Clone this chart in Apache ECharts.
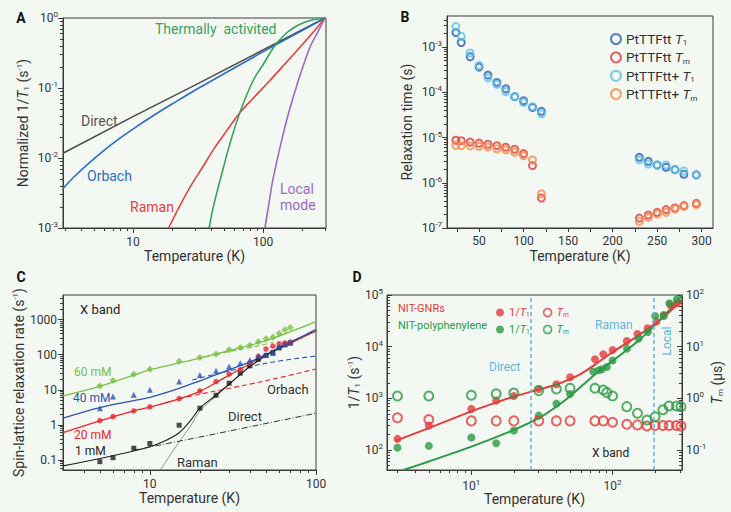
<!DOCTYPE html>
<html><head><meta charset="utf-8">
<script src="https://cdn.jsdelivr.net/npm/echarts@6/dist/echarts.min.js"></script>
<style>html,body{margin:0;padding:0;background:#f4f8f3;}#c{width:731px;height:512px;}</style>
</head><body><div id="c"></div>
<script>
// ---------- Panel A: normalized 1/T1 model curves, [T(K), value] ----------
const aDirect  = [[2.9,0.0117],[10,0.039],[30,0.11],[100,0.35],[300,1]];
const aOrbach  = [[2.9,0.00365],[3.5,0.0053],[4.5,0.0082],[6,0.0129],[8,0.0194],[10,0.0259],[15,0.0425],[20,0.059],[30,0.093],[40,0.126],[60,0.193],[100,0.328],[150,0.496],[300,1]];
const aRaman   = [[18.8,0.001],[21.7,0.0017],[27.4,0.0038],[34,0.0072],[42.8,0.0143],[53,0.025],[66.3,0.0442],[85,0.073],[113,0.128],[150,0.229],[193,0.385],[240,0.61],[300,1]];
const aThermal = [[38.5,0.001],[41.5,0.002],[46.7,0.00475],[54.7,0.0143],[66.3,0.0442],[84,0.128],[100,0.215],[123.6,0.405],[150,0.6],[171,0.72],[200,0.84],[230,0.92],[265,0.97],[300,1]];
const aLocal   = [[103.5,0.001],[110,0.002],[118.8,0.00475],[135.3,0.0143],[156.7,0.0428],[187,0.128],[230,0.385],[265,0.64],[300,1]];

// ---------- Panel B: relaxation times (s) ----------
const bTemps      = [24,30,40,50,60,70,80,90,100,110,120,230,240,250,260,270,280,294];
const bT1         = [2.09e-3,1.26e-3,6.1e-4,3.6e-4,2.4e-4,1.65e-4,1.19e-4,8.0e-5,6.5e-5,4.6e-5,3.8e-5,3.65e-6,2.98e-6,2.47e-6,2.2e-6,1.95e-6,1.54e-6,1.49e-6];
const bTm         = [8.7e-6,8.5e-6,7.9e-6,7.5e-6,7.1e-6,6.6e-6,6.1e-6,5.5e-6,4.4e-6,2.4e-6,4.6e-7,1.66e-7,1.94e-7,2.22e-7,2.55e-7,2.77e-7,3.13e-7,3.5e-7];
const bT1plus     = [2.85e-3,1.72e-3,7.4e-4,3.9e-4,2.08e-4,1.5e-4,1.04e-4,8.0e-5,5.95e-5,4.8e-5,3.35e-5,3.19e-6,2.6e-6,2.47e-6,2.47e-6,1.95e-6,1.82e-6,1.49e-6];
const bTmplus     = [6.7e-6,6.6e-6,6.5e-6,6.4e-6,6.15e-6,5.65e-6,5.35e-6,4.75e-6,3.95e-6,3.2e-6,5.7e-7,1.4e-7,1.72e-7,2.04e-7,2.22e-7,2.63e-7,3.0e-7,3.3e-7];
const bXLabels    = [50,100,150,200,250,300];
const bXTicks     = [25,50,75,100,125,150,175,200,225,250,275,300];

// ---------- Panel C: spin-lattice relaxation rate (s^-1) ----------
const cTemps = [5,6,8,10,15,20,25,30,35,40,45,50,55,60,65,70];
const c1mM   = [0.09,0.117,0.217,0.295,0.98,2.99,7.0,15.4,29.7,48,74,95,115,156,190,212];
const c20mM  = [1.33,1.72,2.5,3.26,5.6,9.3,17.2,28,37,58,90,145,175,205,215,225];
const c40mM  = [3.0,6.45,7.2,10,17.3,26.2,34.7,45.8,57,70,92,100,112,175,200,235];
const c60mM  = [12.9,18.3,27.8,38.6,65,83,105,137,160,185,232,282,315,399,509,591];
const cFit1   = [[3,0.068],[5,0.11],[8,0.18],[10,0.24],[12,0.33],[15,0.6],[17.5,1.3],[20,3.0],[25,7],[30,14.5],[40,46],[60,160],[100,470]];
const cFit20  = [[3,0.6],[5,1.3],[8,2.5],[10,3.2],[15,5.5],[20,9],[25,16],[30,26],[40,55],[50,100],[70,210],[100,480]];
const cFit40  = [[3,1.55],[5,3.1],[8,4.9],[10,6.1],[15,11],[20,18],[25,27],[30,37],[40,62],[50,100],[70,220],[100,530]];
const cFit60  = [[3,6.7],[5,12.5],[8,26],[10,37],[15,58],[20,80],[30,130],[40,185],[50,250],[70,450],[100,877]];
const cOrb20  = [[15,5.6],[20,7.5],[30,11],[40,14.5],[60,22],[100,39]];
const cOrb40  = [[18,19],[25,28],[38,44],[60,66],[100,92]];
const cOrb60  = [[20,80],[30,123],[45,178],[55,225]];
const cDirect = [[8,0.19],[10,0.235],[20,0.45],[50,1.1],[100,2.15]];
const cRaman  = [[11.5,0.05],[13,0.12],[15,0.33],[17.5,0.9],[20,2.5],[25,6.5],[30,14],[40,45],[60,150],[100,470]];

// ---------- Panel D: NIT-GNRs vs NIT-polyphenylene ----------
const dGnrT1Temps  = [3,5,10,15,20,30,40,50,75,86,100,126,150,177,204,230,256,286];
const dGnrT1       = [164,297,624,903,1112,1520,1870,2560,5700,7130,8630,12900,17600,22700,30500,41000,64000,69000];
const dPolyT1Temps = [3,5,10,15,20,30,40,50,73,80,84,91,100,126.5,153,178,200,230,252,285];
const dPolyT1      = [111,120,174,135,238,463,791,1216,3300,3500,3650,4050,5400,9150,14300,19200,39300,39300,69000,82600];
const dGnrTmTemps  = [3,5,10,15,20,30,40,50,75,86,100,126,150,175,200,227,251,283,305];
const dGnrTm       = [0.42,0.39,0.366,0.366,0.366,0.366,0.366,0.366,0.366,0.366,0.344,0.315,0.306,0.292,0.298,0.298,0.298,0.298,0.29];
const dPolyTmTemps = [3,5,10,15,20,30,40,50,75,86,91,100,126,150,175,200,227,251,283,305];
const dPolyTm      = [1.11,1.11,1.15,1.23,1.27,1.41,1.52,1.57,1.57,1.45,1.29,1.11,0.69,0.515,0.38,0.44,0.60,0.71,0.71,0.69];
const dGnrFit  = [[2.9,150],[5,265],[10,560],[15,830],[20,1080],[30,1480],[40,1850],[50,2350],[60,3000],[75,4500],[100,7800],[150,16000],[200,28000],[250,46000],[310,80000]];
const dPolyFit = [[3.3,41],[5,60],[10,116],[20,245],[30,412],[40,690],[50,1100],[75,2900],[100,5300],[150,12600],[200,26300],[250,50000],[300,90000],[315,100000]];
const dRegimeBounds = [26.5, 196];

// ---------- styling ----------
const FONT = 'Roboto, "Noto Sans", "DejaVu Sans", sans-serif';
const frame = '#3a3a3a', txt = '#333';
const cDi='#4d4d4d', cOr='#2f6cc4', cRa='#e8413c', cTh='#36a35c', cLo='#9a6bc2';
const bBlue='#2b5fb6', bRed='#e63a3d', bCyan='#5cc0e6', bOrange='#f58a4a';
const cGreen='#79c043', cBlue='#2c52b2', cRed='#e8252e', cBlack='#1e1e1e';
const dRed='#e53b3b', dGreen='#2a9a44', dDash='#5fb4dc';

const zip = (xs, ys) => xs.map((x, i) => [x, ys[i]]);
const exp10 = v => Math.round(Math.log10(v));
const powFmt = v => '10{p|' + exp10(v) + '}';
const richP = {p: {fontSize: 8, padding: [0, 0, 7, 0], color: txt, fontFamily: FONT}};
const richName = {
  i: {fontStyle: 'italic', fontSize: 14, fontFamily: FONT, color: txt},
  s: {fontSize: 8, padding: [7, 0, 0, 0], fontFamily: FONT, color: txt},
  p: {fontSize: 8, padding: [0, 0, 7, 0], fontFamily: FONT, color: txt}
};
function minorLog(min, max) {
  const out = [];
  for (let e = Math.floor(Math.log10(min)); e <= Math.ceil(Math.log10(max)); e++) {
    for (let k = 2; k <= 9; k++) { const v = k * Math.pow(10, e); if (v > min && v < max) out.push(Math.log10(v)); }
  }
  return out;
}
function mainLog(grid, min, max, o) {
  return {
    type: 'log', gridIndex: grid, min, max, position: o.position,
    axisLine: {show: true, onZero: false, lineStyle: {color: frame, width: 1}},
    axisTick: {show: true, length: 5, inside: !!o.inside, lineStyle: {color: frame}},
    axisLabel: {fontSize: 12, color: txt, fontFamily: FONT, margin: o.margin == null ? 6 : o.margin,
      showMinLabel: !!o.showMin, showMaxLabel: !!o.showMax, formatter: o.formatter, rich: richP},
    splitLine: {show: false}, minorTick: {show: false},
    name: o.name, nameLocation: 'middle', nameGap: o.nameGap,
    nameTextStyle: {fontSize: 14, color: txt, fontFamily: FONT, rich: richName}
  };
}
function minorAxis(grid, min, max, o) {
  return {
    type: 'value', gridIndex: grid, min: Math.log10(min), max: Math.log10(max), position: o.position,
    axisLine: {show: false, onZero: false}, axisLabel: {show: false}, splitLine: {show: false},
    axisTick: {show: true, length: 3, inside: !!o.inside, lineStyle: {color: frame}, customValues: minorLog(min, max)}
  };
}
const plainFmt = v => String(+Number(v).toPrecision(6));

const A = {xmin: 2.9, xmax: 305, ymin: 0.001, ymax: 1};
const B = {xmin: 14, xmax: 312.7, ymin: 1e-7, ymax: 4.85e-3};
const C = {xmin: 3, xmax: 100, ymin: 0.052, ymax: 5000};
const D = {xmin: 2.53, xmax: 310, ymin: 41, ymax: 1e5, rmin: 0.041, rmax: 100};

const gridStyle = {show: true, borderColor: frame, borderWidth: 1, backgroundColor: 'transparent', containLabel: false};

const xAxis = [
  mainLog(0, A.xmin, A.xmax, {position: 'bottom', formatter: plainFmt, name: 'Temperature (K)', nameGap: 20, margin: 8}),
  minorAxis(0, A.xmin, A.xmax, {position: 'bottom'}),
  { type: 'value', gridIndex: 1, min: B.xmin, max: B.xmax, position: 'bottom',
    axisLine: {onZero: false, lineStyle: {color: frame}}, splitLine: {show: false},
    axisTick: {length: 4, lineStyle: {color: frame}, customValues: bXTicks},
    axisLabel: {fontSize: 12, color: txt, fontFamily: FONT, margin: 7, customValues: bXLabels},
    name: 'Temperature (K)', nameLocation: 'middle', nameGap: 21,
    nameTextStyle: {fontSize: 14, color: txt, fontFamily: FONT} },
  mainLog(2, C.xmin, C.xmax, {position: 'bottom', formatter: plainFmt, showMax: true, name: 'Temperature (K)', nameGap: 20, margin: 8}),
  minorAxis(2, C.xmin, C.xmax, {position: 'bottom'}),
  mainLog(3, D.xmin, D.xmax, {position: 'bottom', formatter: powFmt, name: 'Temperature (K)', nameGap: 20, margin: 8}),
  minorAxis(3, D.xmin, D.xmax, {position: 'bottom'})
];
const yAxis = [
  mainLog(0, A.ymin, A.ymax, {position: 'left', formatter: powFmt, showMin: true, showMax: true, name: 'Normalized 1/{i|T}{s|1} (s{p|-1})', nameGap: 33, margin: 5}),
  minorAxis(0, A.ymin, A.ymax, {position: 'left'}),
  mainLog(1, B.ymin, B.ymax, {position: 'left', formatter: powFmt, showMin: true, name: 'Relaxation time (s)', nameGap: 33, margin: 5}),
  minorAxis(1, B.ymin, B.ymax, {position: 'left'}),
  mainLog(2, C.ymin, C.ymax, {position: 'left', formatter: plainFmt, name: 'Spin-lattice relaxation rate (s{p|-1})', nameGap: 28, margin: 6}),
  minorAxis(2, C.ymin, C.ymax, {position: 'left'}),
  mainLog(3, D.ymin, D.ymax, {position: 'left', inside: true, formatter: powFmt, showMax: true, name: '1/{i|T}{s|1} (s{p|-1})', nameGap: 22, margin: 4}),
  minorAxis(3, D.ymin, D.ymax, {position: 'left', inside: true}),
  mainLog(3, D.rmin, D.rmax, {position: 'right', inside: true, formatter: powFmt, showMax: true, name: '{i|T}{s|m} (μs)', nameGap: 26, margin: 4}),
  minorAxis(3, D.rmin, D.rmax, {position: 'right', inside: true})
];

const line = (xi, yi, data, color, o) => Object.assign({
  type: 'line', xAxisIndex: xi, yAxisIndex: yi, data, showSymbol: false, silent: true,
  smooth: 0.35, lineStyle: {color, width: 1.6}, z: 2
}, o || {});
const scat = (xi, yi, data, color, symbol, size, o) => Object.assign({
  type: 'scatter', xAxisIndex: xi, yAxisIndex: yi, data, symbol, symbolSize: size, silent: true,
  itemStyle: {color}, z: 4
}, o || {});
const ring = (xi, yi, name, data, color, size, bw) => ({
  type: 'scatter', name, xAxisIndex: xi, yAxisIndex: yi, data, symbol: 'circle', symbolSize: size, silent: true,
  itemStyle: {color: 'rgba(0,0,0,0)', borderColor: color, borderWidth: bw}, z: 4
});

const series = [
  // A
  line(0, 0, aDirect, cDi, {smooth: false}),
  line(0, 0, aOrbach, cOr),
  line(0, 0, aRaman, cRa),
  line(0, 0, aThermal, cTh),
  line(0, 0, aLocal, cLo),
  // B
  ring(2, 2, 'PtTTFtt T1', zip(bTemps, bT1), bBlue, 7, 2),
  ring(2, 2, 'PtTTFtt Tm', zip(bTemps, bTm), bRed, 7, 2),
  ring(2, 2, 'PtTTFtt+ T1', zip(bTemps, bT1plus), bCyan, 7, 2),
  ring(2, 2, 'PtTTFtt+ Tm', zip(bTemps, bTmplus), bOrange, 7, 2),
  // C lines
  line(3, 4, cRaman, '#777', {lineStyle: {color: '#777', width: 0.8}}),
  line(3, 4, cDirect, '#333', {smooth: false, lineStyle: {color: '#333', width: 1, type: [6, 2, 1, 2]}}),
  line(3, 4, cOrb20, cRed, {lineStyle: {color: cRed, width: 1.1, type: [5, 3]}}),
  line(3, 4, cOrb40, cBlue, {lineStyle: {color: cBlue, width: 1.1, type: [5, 3]}}),
  line(3, 4, cOrb60, cGreen, {lineStyle: {color: cGreen, width: 1.1, type: [5, 3]}}),
  line(3, 4, cFit1, cBlack, {lineStyle: {color: cBlack, width: 1.1}}),
  line(3, 4, cFit20, cRed, {lineStyle: {color: cRed, width: 1.3}}),
  line(3, 4, cFit40, cBlue, {lineStyle: {color: cBlue, width: 1.3}}),
  line(3, 4, cFit60, cGreen, {lineStyle: {color: cGreen, width: 1.3}}),
  // C points
  scat(3, 4, zip(cTemps, c1mM), cBlack, 'rect', 5),
  scat(3, 4, zip(cTemps, c20mM), cRed, 'circle', 5.5),
  scat(3, 4, zip(cTemps, c40mM), cBlue, 'triangle', 6),
  scat(3, 4, zip(cTemps, c60mM), cGreen, 'diamond', 7),
  // D fits
  line(5, 6, dGnrFit, dRed, {lineStyle: {color: dRed, width: 2},
    markLine: {symbol: 'none', silent: true, label: {show: false},
      lineStyle: {type: [4, 3], color: dDash, width: 1.5},
      data: dRegimeBounds.map(v => ({xAxis: v}))}}),
  line(5, 6, dPolyFit, dGreen, {lineStyle: {color: dGreen, width: 2}}),
  // D points
  scat(5, 6, zip(dGnrT1Temps, dGnrT1), dRed, 'circle', 8, {name: 'GNR 1/T1'}),
  scat(5, 6, zip(dPolyT1Temps, dPolyT1), dGreen, 'circle', 8, {name: 'Poly 1/T1'}),
  ring(5, 8, 'GNR Tm', zip(dGnrTmTemps, dGnrTm), dRed, 9, 2),
  ring(5, 8, 'Poly Tm', zip(dPolyTmTemps, dPolyTm), dGreen, 9, 2)
];

const legRich = (size, color) => ({
  i: {fontStyle: 'italic', fontSize: size, fontFamily: FONT, color},
  s: {fontSize: size * 0.6, padding: [size * 0.5, 0, 0, 0], fontFamily: FONT, color}
});
const ringIcon = (c, bw) => ({color: 'rgba(0,0,0,0)', borderColor: c, borderWidth: bw});
const legend = [
  { orient: 'vertical', left: 605, top: 27, itemWidth: 10, itemHeight: 10, itemGap: 4, selectedMode: false,
    data: [
      {name: 'PtTTFtt T1', icon: 'circle', itemStyle: ringIcon(bBlue, 2)},
      {name: 'PtTTFtt Tm', icon: 'circle', itemStyle: ringIcon(bRed, 2)},
      {name: 'PtTTFtt+ T1', icon: 'circle', itemStyle: ringIcon(bCyan, 2)},
      {name: 'PtTTFtt+ Tm', icon: 'circle', itemStyle: ringIcon(bOrange, 2)}],
    formatter: n => { const p = n.split(' '); return p[0] + ' {i|T}{s|' + (p[1] === 'T1' ? '1' : 'm') + '}'; },
    textStyle: {fontSize: 13.5, color: txt, fontFamily: FONT, rich: legRich(13.5, txt)} },
  { orient: 'horizontal', left: 491, top: 302, itemWidth: 8, itemHeight: 8, itemGap: 13, selectedMode: false,
    data: [{name: 'GNR 1/T1', icon: 'circle'}, {name: 'GNR Tm', icon: 'circle', itemStyle: ringIcon(dRed, 1.6)}],
    formatter: n => n.endsWith('1/T1') ? '1/{i|T}{s|1}' : '{i|T}{s|m}',
    textStyle: {fontSize: 11, color: dRed, fontFamily: FONT, rich: legRich(11, dRed)} },
  { orient: 'horizontal', left: 491, top: 319, itemWidth: 8, itemHeight: 8, itemGap: 13, selectedMode: false,
    data: [{name: 'Poly 1/T1', icon: 'circle'}, {name: 'Poly Tm', icon: 'circle', itemStyle: ringIcon(dGreen, 1.6)}],
    formatter: n => n.endsWith('1/T1') ? '1/{i|T}{s|1}' : '{i|T}{s|m}',
    textStyle: {fontSize: 11, color: dGreen, fontFamily: FONT, rich: legRich(11, dGreen)} }
];

const T = (x, y, text, color, size, extra) => ({
  type: 'text', x, y, silent: true,
  style: Object.assign({text, fill: color, fontSize: size, fontFamily: FONT, align: 'left', verticalAlign: 'middle'}, extra || {})
});
const bold = {fontWeight: 'bold', align: 'center'};
const graphic = [
  T(21, 18, 'A', '#111', 14, bold), T(405, 17, 'B', '#111', 14, bold),
  T(21, 277, 'C', '#111', 14, bold), T(357, 277, 'D', '#111', 14, bold),
  T(155, 29, 'Thermally  activited', cTh, 14), T(81, 121, 'Direct', '#555', 14),
  T(87, 176, 'Orbach', cOr, 14), T(130, 207, 'Raman', cRa, 14),
  T(280, 189, 'Local', cLo, 14), T(280, 205, 'mode', cLo, 14),
  T(80, 309, 'X band', '#222', 13), T(74, 372, '60 mM', cGreen, 12), T(73, 398, '40 mM', cBlue, 12),
  T(74, 435, '20 mM', cRed, 12), T(75, 451, '1 mM', '#222', 12),
  T(267, 389, 'Orbach', '#333', 13), T(228, 416, 'Direct', '#333', 13), T(177, 462, 'Raman', '#333', 13),
  T(398, 308, 'NIT-GNRs', dRed, 11), T(398, 325, 'NIT-polyphenylene', dGreen, 11),
  T(489, 367, 'Direct', dDash, 12), T(595, 325, 'Raman', dDash, 12), T(592, 453, 'X band', '#222', 12),
  Object.assign(T(667, 341, 'Local', dDash, 12, {align: 'center'}), {rotation: Math.PI / 2})
];

const chart = echarts.init(document.getElementById('c'), null, {renderer: 'svg'});
chart.setOption({
  backgroundColor: '#f4f8f3',
  animation: false,
  textStyle: {fontFamily: FONT},
  grid: [
    Object.assign({left: 63, top: 18, width: 263, height: 210}, gridStyle),
    Object.assign({left: 447, top: 16, width: 266, height: 212}, gridStyle),
    Object.assign({left: 63, top: 295, width: 253, height: 175}, gridStyle),
    Object.assign({left: 387, top: 295, width: 295, height: 175}, gridStyle)
  ],
  xAxis, yAxis, series, legend, graphic
});
</script></body></html>
